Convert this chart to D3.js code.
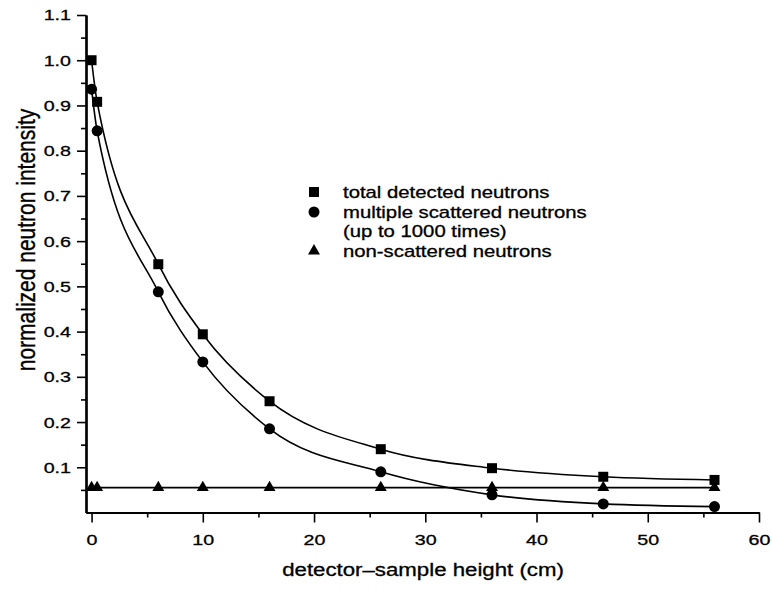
<!DOCTYPE html>
<html>
<head>
<meta charset="utf-8">
<script src="https://cdn.jsdelivr.net/npm/d3@7"></script>
<style>
  html, body { margin: 0; padding: 0; background: #fff; }
  svg { display: block; }
  text { font-family: "Liberation Sans", Arial, sans-serif; fill: #000; stroke: #000; stroke-width: 0.3px; }
</style>
</head>
<body>
<svg id="chart" width="772" height="590"></svg>
<script>
// ---- data ----
const heights = [0, 0.5, 6, 10, 16, 26, 36, 46, 56];
const totalDetected = [1.0, 0.908, 0.549, 0.394, 0.246, 0.140, 0.098, 0.079, 0.072];
const multipleScattered = [0.936, 0.844, 0.488, 0.333, 0.185, 0.090, 0.039, 0.019, 0.013];
const nonScattered = [0.055, 0.055, 0.055, 0.055, 0.055, 0.055, 0.055, 0.055, 0.055];
const xMajorTicks = [0, 10, 20, 30, 40, 50, 60];
const xMinorTicks = [5, 15, 25, 35, 45, 55];
const yMajorTicks = [0.1, 0.2, 0.3, 0.4, 0.5, 0.6, 0.7, 0.8, 0.9, 1.0, 1.1];
const yMinorTicks = [0.05, 0.15, 0.25, 0.35, 0.45, 0.55, 0.65, 0.75, 0.85, 0.95, 1.05];
const legendLabels = [
  ["total detected neutrons"],
  ["multiple scattered neutrons", "(up to 1000 times)"],
  ["non-scattered neutrons"]
];
const xTitle = "detector\u2013sample height (cm)";
const yTitle = "normalized neutron intensity";

// ---- layout ----
const SX = 1.27; // horizontal stretch of the original figure's lettering
const svg = d3.select("#chart");
const x = d3.scaleLinear().domain([-0.5, 60]).range([86, 759]);
const y = d3.scaleLinear().domain([0, 1.1]).range([512.5, 15]);

function stretchedText(g, str, px, py, size, anchor, sx, extra) {
  return g.append("text")
    .attr("transform", `translate(${px},${py}) scale(${sx},1)` + (extra || ""))
    .attr("text-anchor", anchor)
    .style("font-size", size + "px")
    .text(str);
}

// ---- axes ----
const xAxisMinor = svg.append("g").attr("transform", `translate(0,${y(0)})`)
  .call(d3.axisBottom(x).tickValues(xMinorTicks).tickSize(5).tickSizeOuter(0).tickFormat(""));
const xAxis = svg.append("g").attr("transform", `translate(0,${y(0)})`)
  .call(d3.axisBottom(x).tickValues(xMajorTicks).tickSize(10).tickSizeOuter(0).tickPadding(11).tickFormat(d3.format("d")));
const yAxisMinor = svg.append("g").attr("transform", `translate(${x.range()[0]},0)`)
  .call(d3.axisLeft(y).tickValues(yMinorTicks).tickSize(5).tickSizeOuter(0).tickFormat(""));
const yAxis = svg.append("g").attr("transform", `translate(${x.range()[0]},0)`)
  .call(d3.axisLeft(y).tickValues(yMajorTicks).tickSize(9).tickSizeOuter(0).tickFormat(d3.format(".1f")));

[xAxisMinor, xAxis, yAxisMinor, yAxis].forEach(a => {
  a.selectAll("path.domain").attr("stroke", "#000").attr("stroke-width", 2.2);
  a.selectAll(".tick line").attr("stroke", "#000").attr("stroke-width", 1.6);
});
xAxis.selectAll(".tick text")
  .style("font-size", "15.5px").style("font-family", "Liberation Sans, Arial, sans-serif")
  .attr("fill", "#000")
  .attr("transform", `scale(${SX},1)`);
yAxis.selectAll(".tick text")
  .style("font-size", "15.5px").style("font-family", "Liberation Sans, Arial, sans-serif")
  .attr("fill", "#000")
  .attr("x", -15 / SX)
  .attr("transform", `scale(${SX},1)`);

// ---- titles ----
stretchedText(svg, xTitle, 423, 576, 17.5, "middle", SX);
stretchedText(svg, yTitle, 35, 240, 21, "middle", 1.2, " rotate(-90)");

// ---- curves ----
const lineGen = d3.line().x(d => x(d[0])).y(d => y(d[1])).curve(d3.curveMonotoneX);
const lineFlat = d3.line().x(d => x(d[0])).y(d => y(d[1]));
const plot = svg.append("g");
plot.append("path").datum(heights.map((h, i) => [h, totalDetected[i]]))
  .attr("d", lineGen).attr("fill", "none").attr("stroke", "#000").attr("stroke-width", 1.6);
plot.append("path").datum(heights.map((h, i) => [h, multipleScattered[i]]))
  .attr("d", lineGen).attr("fill", "none").attr("stroke", "#000").attr("stroke-width", 1.6);
plot.append("path").datum(heights.map((h, i) => [h, nonScattered[i]]))
  .attr("d", lineFlat).attr("fill", "none").attr("stroke", "#000").attr("stroke-width", 1.8);

// ---- markers ----
const sq = d3.symbol().type(d3.symbolSquare).size(100);
const ci = d3.symbol().type(d3.symbolCircle).size(95);
const tr = d3.symbol().type(d3.symbolTriangle).size(62);
function markers(vals, sym) {
  plot.append("g").selectAll("path").data(heights.map((h, i) => [h, vals[i]]))
    .join("path")
    .attr("transform", d => `translate(${x(d[0])},${y(d[1])})`)
    .attr("d", sym).attr("fill", "#000");
}
markers(totalDetected, sq);
markers(multipleScattered, ci);
markers(nonScattered, tr);

// ---- legend ----
const leg = svg.append("g");
const legSyms = [sq, ci, tr];
const rowY = [192, 212, 251];
legendLabels.forEach((lines, i) => {
  leg.append("path").attr("transform", `translate(314,${rowY[i]})`).attr("d", legSyms[i]).attr("fill", "#000");
  lines.forEach((t, j) => {
    stretchedText(leg, t, 343, rowY[i] + 5.5 + j * 19.5, 16, "start", SX);
  });
});
</script>
</body>
</html>
